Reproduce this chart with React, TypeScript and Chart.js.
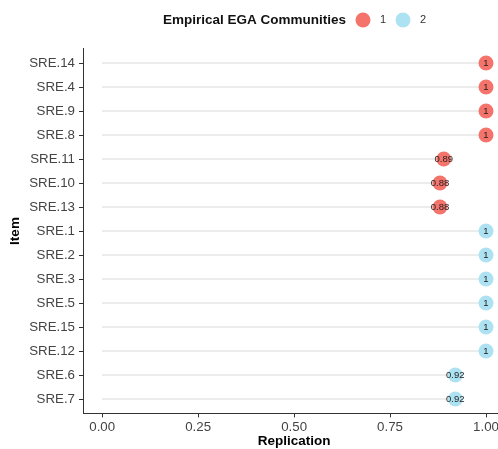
import React, { useEffect, useRef } from "react";
import { Chart, registerables } from "chart.js";

Chart.register(...registerables);

// Items from top to bottom
const items = [
  "SRE.14", "SRE.4", "SRE.9", "SRE.8", "SRE.11", "SRE.10", "SRE.13",
  "SRE.1", "SRE.2", "SRE.3", "SRE.5", "SRE.15", "SRE.12", "SRE.6", "SRE.7",
];
const replication = [1, 1, 1, 1, 0.89, 0.88, 0.88, 1, 1, 1, 1, 1, 1, 0.92, 0.92];
const community = [1, 1, 1, 1, 1, 1, 1, 2, 2, 2, 2, 2, 2, 2, 2];
const communityLabels = ["1", "2"];
const communityColors = ["#F4736A", "#ADE2F2"];
const xTicks = [0, 0.25, 0.5, 0.75, 1];

const FONT = "'Liberation Sans', Arial, sans-serif";

const fmt = (v: number) => String(Number(v.toFixed(2)));

// Values printed on top of each dot
const valueLabels = {
  id: "valueLabels",
  afterDatasetsDraw(chart: any) {
    const ctx = chart.ctx;
    ctx.save();
    ctx.font = `9.5px ${FONT}`;
    ctx.fillStyle = "#1f1f1f";
    ctx.textAlign = "center";
    ctx.textBaseline = "middle";
    chart.data.datasets.forEach((ds: any, di: number) => {
      if (!ds.isPoints) return;
      const meta = chart.getDatasetMeta(di);
      meta.data.forEach((el: any, i: number) => {
        ctx.fillText(fmt(ds.data[i].x), el.x, el.y + 0.5);
      });
    });
    ctx.restore();
  },
};

// Legend with inline title and circle keys
const inlineLegend = {
  id: "inlineLegend",
  afterDraw(chart: any) {
    const ctx = chart.ctx;
    const cy = 20;
    ctx.save();
    ctx.textBaseline = "middle";
    ctx.textAlign = "left";
    ctx.font = `bold 13.5px ${FONT}`;
    ctx.fillStyle = "#111";
    ctx.fillText("Empirical EGA Communities", 163, cy);
    let x = 363;
    const pts = chart.data.datasets.filter((d: any) => d.isPoints);
    pts.forEach((ds: any) => {
      ctx.beginPath();
      ctx.arc(x, cy, 7.5, 0, Math.PI * 2);
      ctx.fillStyle = ds.backgroundColor;
      ctx.fill();
      ctx.font = `11px ${FONT}`;
      ctx.fillStyle = "#333";
      ctx.fillText(ds.label, x + 17, cy);
      x += 40;
    });
    ctx.restore();
  },
};

export default function App() {
  const ref = useRef<HTMLCanvasElement | null>(null);

  useEffect(() => {
    if (!ref.current) return;

    const segments = items.map((_, i) => ({
      type: "line" as const,
      label: "seg" + i,
      data: [
        { x: 0, y: i },
        { x: replication[i], y: i },
      ],
      borderColor: "#d9d9d9",
      borderWidth: 1,
      pointRadius: 0,
      order: 2,
    }));

    const points = communityLabels.map((lab, c) => ({
      type: "scatter" as const,
      label: lab,
      isPoints: true,
      data: items
        .map((_, i) => ({ x: replication[i], y: i, c: community[i] }))
        .filter((d) => d.c === c + 1),
      backgroundColor: communityColors[c],
      borderWidth: 0,
      pointRadius: 7.5,
      order: 1,
    }));

    const chart = new Chart(ref.current, {
      type: "scatter",
      data: { datasets: [...segments, ...points] as any },
      plugins: [valueLabels, inlineLegend],
      options: {
        animation: false,
        responsive: false,
        devicePixelRatio: 1,
        layout: { padding: { top: 48.6, right: 14.8, bottom: 0, left: 0 } },
        plugins: { legend: { display: false }, tooltip: { enabled: false } },
        scales: {
          x: {
            type: "linear",
            min: -0.05,
            max: 1.05,
            afterBuildTicks: (s: any) => {
              s.ticks = xTicks.map((v) => ({ value: v }));
            },
            afterFit: (s: any) => {
              s.height = 35.6;
            },
            ticks: {
              callback: (v: any) => Number(v).toFixed(2),
              font: { family: FONT, size: 13.3 },
              color: "#444",
              padding: 2,
              maxRotation: 0,
            },
            grid: { drawOnChartArea: false, tickLength: 4, color: "#333" },
            border: { color: "#333", width: 1 },
            title: {
              display: true,
              text: "Replication",
              font: { family: FONT, size: 13.5, weight: "bold" },
              color: "#000",
              padding: { top: 0, bottom: 0 },
            },
          },
          y: {
            type: "linear",
            reverse: true,
            min: -0.6,
            max: items.length - 0.4,
            afterBuildTicks: (s: any) => {
              s.ticks = items.map((_, i) => ({ value: i }));
            },
            afterFit: (s: any) => {
              s.width = 83;
            },
            ticks: {
              callback: (v: any) => items[v] ?? "",
              font: { family: FONT, size: 13.3 },
              color: "#444",
              padding: 4,
            },
            grid: { drawOnChartArea: false, tickLength: 4, color: "#333" },
            border: { color: "#333", width: 1 },
            title: {
              display: true,
              text: "Item",
              font: { family: FONT, size: 13.5, weight: "bold" },
              color: "#000",
              padding: { top: 7, bottom: 0 },
            },
          },
        },
      } as any,
    });

    return () => chart.destroy();
  }, []);

  return (
    <div style={{ position: "fixed", left: 0, top: 0, width: 520, height: 449, background: "#fff" }}>
      <canvas ref={ref} width={520} height={449} style={{ display: "block" }} />
    </div>
  );
}
